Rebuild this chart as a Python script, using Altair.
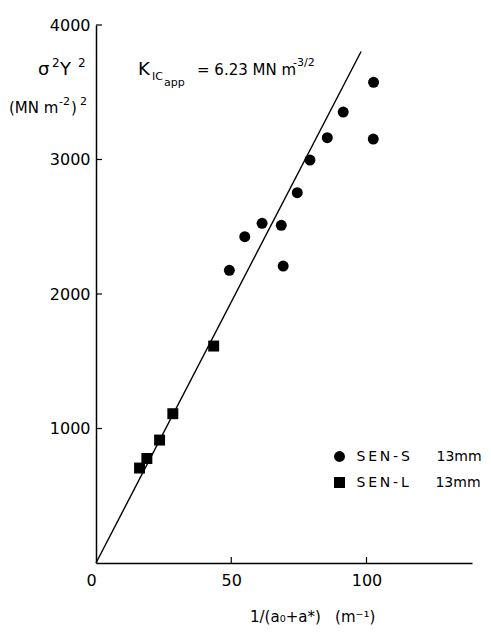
import altair as alt
import pandas as pd

# --- data ---
sen_s_x = [49.3, 55.0, 61.4, 68.5, 69.2, 74.4, 79.1, 85.5, 91.4, 102.5, 102.6]
sen_s_y = [2176, 2426, 2526, 2511, 2208, 2753, 2996, 3162, 3353, 3152, 3574]
sen_l_x = [16.1, 18.8, 23.5, 28.4, 43.5]
sen_l_y = [706, 777, 914, 1110, 1613]
series = ["SEN-S", "SEN-L"]
shapes = ["circle", "square"]
fit_x = [0, 98]
fit_y = [0, 3803]
x_ticks = [0, 50, 100]
y_ticks = [1000, 2000, 3000, 4000]

FONT = "DejaVu Sans"
W, H = 376, 538

pts = pd.DataFrame(
    {
        "x": sen_s_x + sen_l_x,
        "y": sen_s_y + sen_l_y,
        "series": [series[0]] * len(sen_s_x) + [series[1]] * len(sen_l_x),
    }
)
fit = pd.DataFrame({"x": fit_x, "y": fit_y})

xscale = alt.Scale(domain=[0, 139], nice=False, zero=True)
yscale = alt.Scale(domain=[0, 4000], nice=False)

xaxis = alt.Axis(
    values=x_ticks, title=None, grid=False, ticks=False, tickSize=0, format="d",
    labelPadding=9, labelFontSize=16, labelFont=FONT, labelColor="black",
    labelOffset=alt.condition("datum.value == 0", alt.value(-10), alt.value(0)),
    domainColor="black", domainWidth=1.5,
)
yaxis = alt.Axis(
    values=y_ticks, title=None, grid=False, ticks=False, tickSize=0, format="d",
    labelPadding=6, labelFontSize=16, labelFont=FONT, labelColor="black",
    domainColor="black", domainWidth=1.5,
)

line = alt.Chart(fit).mark_line(color="black", strokeWidth=1.4).encode(
    x=alt.X("x:Q", scale=xscale, axis=xaxis),
    y=alt.Y("y:Q", scale=yscale, axis=yaxis),
)

points = alt.Chart(pts).mark_point(filled=True, color="black", opacity=1, size=120).encode(
    x=alt.X("x:Q", scale=xscale),
    y=alt.Y("y:Q", scale=yscale),
    shape=alt.Shape(
        "series:N",
        scale=alt.Scale(domain=series, range=shapes),
        legend=alt.Legend(
            title=None, orient="none", legendX=236.5, legendY=424.5,
            padding=0, symbolSize=120, symbolFillColor="black",
            symbolStrokeWidth=0, labelFont=FONT, labelFontSize=14,
            labelColor="black", labelOffset=10, rowPadding=12, labelLimit=300,
            labelExpr="join(split(datum.label, ''), '\u2009') + '\u00a0\u00a0\u00a0\u00a0\u00a0\u00a013mm'",
        ),
    ),
)

xt = pd.DataFrame({"v": x_ticks[1:]})
yt = pd.DataFrame({"v": y_ticks})
xtick_marks = alt.Chart(xt).mark_rule(color="black", strokeWidth=1.2).encode(
    x=alt.X("v:Q", scale=xscale), y=alt.value(H), y2=alt.value(H - 6)
)
ytick_marks = alt.Chart(yt).mark_rule(color="black", strokeWidth=1.2).encode(
    y=alt.Y("v:Q", scale=yscale), x=alt.value(0), x2=alt.value(6)
)


def label(text, x, y, size=16, align="left"):
    return alt.Chart(pd.DataFrame({"t": [text]})).mark_text(
        font=FONT, fontSize=size, color="black", align=align, baseline="alphabetic"
    ).encode(text="t:N", x=alt.value(x), y=alt.value(y))


texts = [
    # sigma^2 Y^2
    label("\u03c3", -58, 50, 18),
    label("2", -44, 42, 12),
    label("Y", -36, 50, 18),
    label("2", -18, 42, 12),
    # (MN m^-2)^2
    label("(MN m", -87, 88, 15),
    label("-2", -37, 80, 11),
    label(")", -25, 88, 15),
    label("2", -16, 80, 11),
    # K_IC_app = 6.23 MN m^-3/2
    label("K", 42, 50, 18),
    label("IC", 56, 55, 11),
    label("app", 68, 61, 11),
    label("= 6.23 MN m", 101, 50, 15),
    label("-3/2", 197, 41, 11),
    # x title
    label("1/(a\u2080+a*)\u00a0\u00a0\u00a0(m\u207b\u00b9)", 154, 597, 15),
]

chart = alt.layer(line, xtick_marks, ytick_marks, points, *texts).properties(
    width=W, height=H,
    autosize=alt.AutoSizeParams(type="none"),
    padding={"left": 88, "top": 17, "right": 10, "bottom": 62},
).configure_view(stroke=None)

chart.save("out.html", embed_options={"renderer": "svg", "actions": False})
